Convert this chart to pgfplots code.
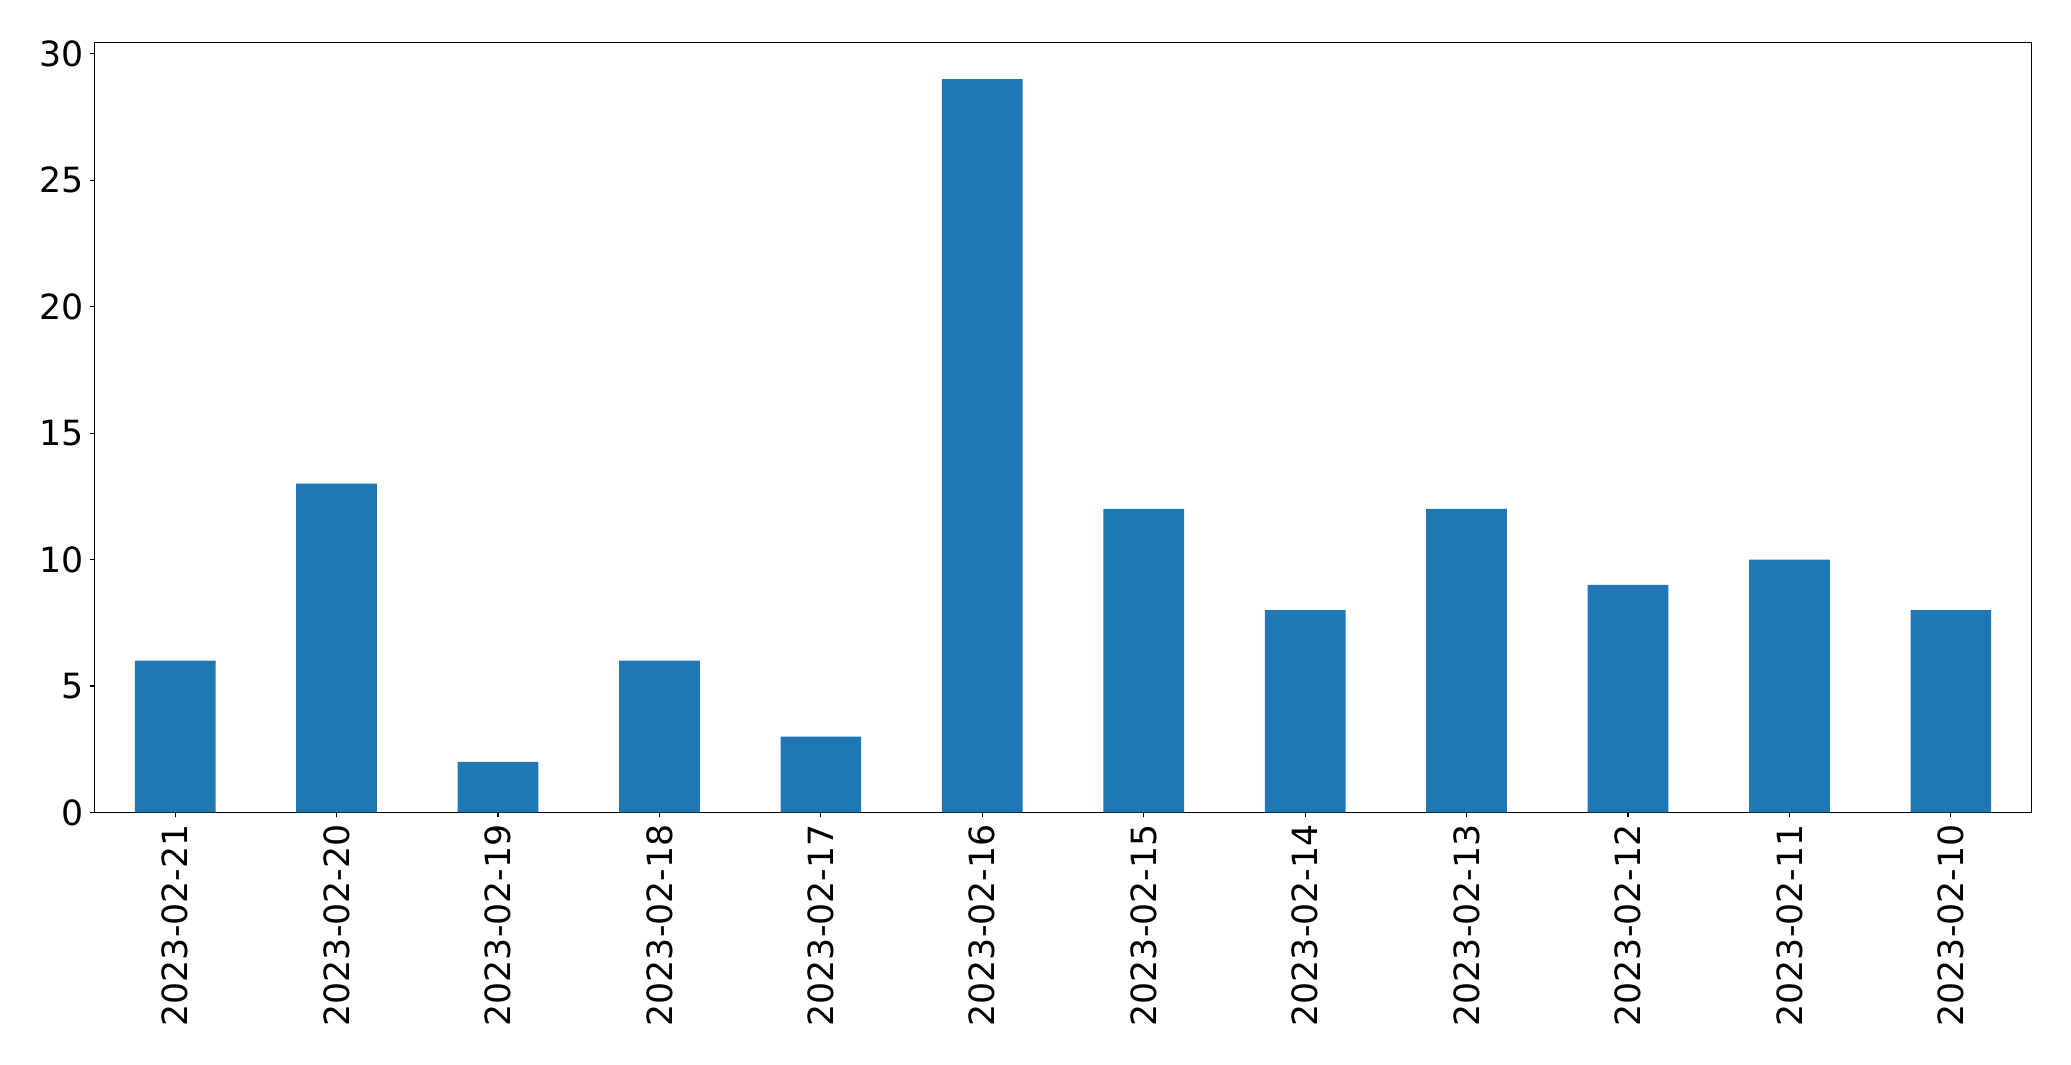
\documentclass[border=0pt]{standalone}
\usepackage{pgfplots}
\pgfplotsset{compat=1.18}
\usepackage{fontspec}
\setmainfont{DejaVu Sans}
\definecolor{mplblue}{HTML}{1F77B4}
\begin{document}
\begin{tikzpicture}
\begin{axis}[
  scale only axis,
  width=1394.6pt, height=554.4pt,
  xmin=-0.5, xmax=11.5, ymin=0, ymax=30.45,
  axis line style={line width=0.8pt},
  tick style={line width=0.8pt, black},
  tick align=outside, major tick length=3.5pt,
  xtick=data,
  xticklabels={2023-02-21,2023-02-20,2023-02-19,2023-02-18,2023-02-17,2023-02-16,2023-02-15,2023-02-14,2023-02-13,2023-02-12,2023-02-11,2023-02-10},
  ytick={0,5,10,15,20,25,30},
  xtick pos=bottom, ytick pos=left,
  /pgf/number format/assume math mode=true,
  tick label style={font=\fontsize{25}{30}\selectfont},
  xticklabel style={yshift=-5pt, rotate=90, anchor=east, inner sep=0pt},
  yticklabel style={anchor=east, inner sep=0pt, xshift=-4pt},
]
\addplot[ybar, bar width=0.5, fill=mplblue, draw=none] coordinates {
(0,6) (1,13) (2,2) (3,6) (4,3) (5,29) (6,12) (7,8) (8,12) (9,9) (10,10) (11,8)
};
\end{axis}
\pgfresetboundingbox
\useasboundingbox ([shift={(-68pt,-181.2pt)}]current axis.south west) rectangle ([shift={(28.4pt,30.5pt)}]current axis.north east);
\end{tikzpicture}
\end{document}
